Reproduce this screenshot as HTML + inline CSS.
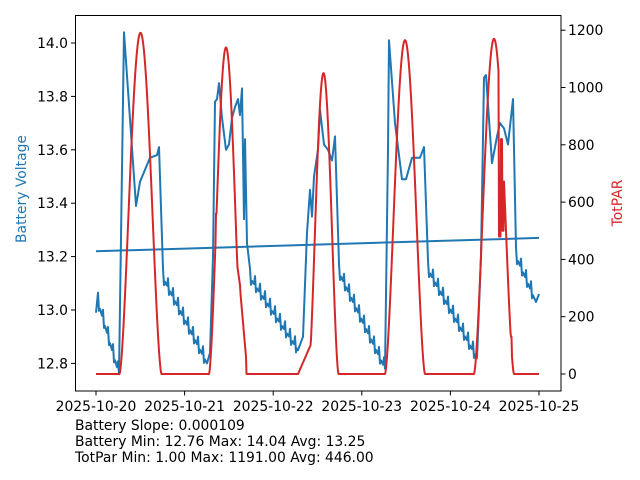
<!DOCTYPE html>
<html><head><meta charset="utf-8"><style>
body{margin:0;background:#fff}
svg{display:block;font-family:"DejaVu Sans","Liberation Sans",sans-serif}
</style></head><body>
<svg id="s" width="640" height="480" viewBox="0 0 640 480">
<rect x="0" y="0" width="640" height="480" fill="#fff"/>
<g id="plot"></g>
<rect x="75.5" y="15.5" width="485.5" height="375.5" fill="none" stroke="#000" stroke-width="1"/>
<g font-size="13.9" fill="#000">
<g id="lt" text-anchor="end"></g>
<g id="rt" text-anchor="start"></g>
<g id="bt" text-anchor="middle"></g>
</g>
<text transform="translate(26,189) rotate(-90)" text-anchor="middle" font-size="13.9" fill="#1f77b4">Battery Voltage</text>
<text transform="translate(622,203) rotate(-90)" text-anchor="middle" font-size="13.9" fill="#d62728">TotPAR</text>
<g font-size="13.9" fill="#000">
<text x="75" y="430">Battery Slope: 0.000109</text>
<text x="75" y="446">Battery Min: 12.76 Max: 14.04 Avg: 13.25</text>
<text x="75" y="462">TotPar Min: 1.00 Max: 1191.00 Avg: 446.00</text>
</g>
</svg>
<script>
var NS="http://www.w3.org/2000/svg";
function el(p,t,a,txt){var e=document.createElementNS(NS,t);for(var k in a)e.setAttribute(k,a[k]);if(txt!==undefined)e.textContent=txt;p.appendChild(e);return e;}
function vy(v){return 43+(14.0-v)/0.2*53.4;}
function py(p){return 374-p/200*57.3;}
var lt=document.getElementById('lt'),rt=document.getElementById('rt'),bt=document.getElementById('bt'),plot=document.getElementById('plot'),svg=document.getElementById('s');
[12.8,13.0,13.2,13.4,13.6,13.8,14.0].forEach(function(v){var y=vy(v);el(svg,'line',{x1:75.5,x2:71,y1:y,y2:y,stroke:'#000'});el(lt,'text',{x:68,y:y+5},v.toFixed(1));});
[0,200,400,600,800,1000,1200].forEach(function(p){var y=py(p);el(svg,'line',{x1:561,x2:565.5,y1:y,y2:y,stroke:'#000'});el(rt,'text',{x:568,y:y+5},p);});
for(var d=0;d<6;d++){var x=96+88.6*d;el(svg,'line',{x1:x,x2:x,y1:391,y2:395.5,stroke:'#000'});el(bt,'text',{x:x,y:411},'2025-10-'+(20+d));}
var K=[[96,12.99,0],[98,13.03,1],[119,12.76,0],[124,14.04,0],[136,13.39,0],[140,13.48,0],[150,13.57,0],[157,13.58,0],[159,13.61,0],[163,13.12,1],[207,12.80,0],[210,12.84,0],[213,13.2,0],[215,13.78,0],[217,13.79,0],[219,13.85,0],[222,13.72,0],[226,13.60,0],[229,13.62,0],[232,13.72,0],[235,13.76,0],[238,13.79,0],[240,13.73,0],[242,13.83,0],[244,13.34,0],[245,13.64,0],[247,13.25,0],[250,13.12,1],[298,12.85,0],[303,12.9,0],[307,13.29,0],[310,13.45,0],[312,13.35,0],[314,13.5,0],[318,13.6,0],[320,13.75,0],[324,13.62,0],[328,13.6,0],[332,13.56,0],[335,13.65,0],[339,13.14,1],[385,12.78,0],[388,13.6,0],[389,14.01,0],[395,13.7,0],[402,13.49,0],[406,13.49,0],[412,13.57,0],[420,13.57,0],[424,13.61,0],[428,13.15,1],[477,12.82,0],[481,13.2,0],[484,13.87,0],[486,13.88,0],[492,13.55,0],[497,13.65,0],[500,13.70,0],[504,13.68,0],[508,13.62,0],[513,13.79,0],[516,13.2,1],[536,13.03,0],[539,13.06,0]];
var pts=[];
for(var i=0;i<K.length-1;i++){var a=K[i],b=K[i+1];
 if(a[2]){var n=Math.round(b[0]-a[0]);for(var j=0;j<n;j++){var t=j/n,x=a[0]+(b[0]-a[0])*t,v=a[1]+(b[1]-a[1])*t;var ph=(j%5);var s=(ph==0?0.035:ph==1?-0.02:0);pts.push([x,v+s]);}}
 else pts.push([a[0],a[1]]);}
pts.push([539,13.06]);
el(plot,'polyline',{points:pts.map(function(p){return p[0].toFixed(1)+','+vy(p[1]).toFixed(1)}).join(' '),fill:'none',stroke:'#1f77b4','stroke-width':2,'stroke-linejoin':'round'});
el(plot,'line',{x1:96,y1:vy(13.22),x2:539,y2:vy(13.27),stroke:'#1f77b4','stroke-width':2});
function bell(c,w,h,x){var u=(x-c)/w;if(Math.abs(u)>=1)return 0;return h*Math.pow(Math.cos(u*Math.PI/2),1.6);}
var P=[];
for(var x=96;x<=539;x+=0.5){var p=0;
 p+=bell(140.5,21,1191,x);
 p+=bell(226,17,1140,x);
 p+=bell(323.5,15,1050,x);
 p+=bell(405,20,1165,x);
 p+=bell(494,20,1170,x);
 if(x>=216&&x<=218.5)p=Math.max(p,560);
 if(x>=228&&x<=231)p=Math.max(p,800);
 if(x>229&&x<=234)p=Math.max(p,700-(x-229)*25);
 if(x>234&&x<=240)p=Math.max(p,460-(x-234)*25);
 if(x>240&&x<=246)p=Math.max(p,300-(x-240)*40);
 if(x>=298&&x<=318){p=Math.max(p,(x-298)*8+(x>312?(x-312)*20:0));}
 if(x>=499&&x<=500.5)p=480;
 if(x>500.5&&x<=502)p=820;
 if(x>502&&x<=503.5)p=500;
 if(x>=510.5&&x<=511.5)p=Math.max(p,130);
 P.push([x,p]);}
el(plot,'polyline',{points:P.map(function(q){return q[0]+','+py(q[1]).toFixed(1)}).join(' '),fill:'none',stroke:'#d62728','stroke-width':2,'stroke-linejoin':'round'});
</script>
</body></html>
